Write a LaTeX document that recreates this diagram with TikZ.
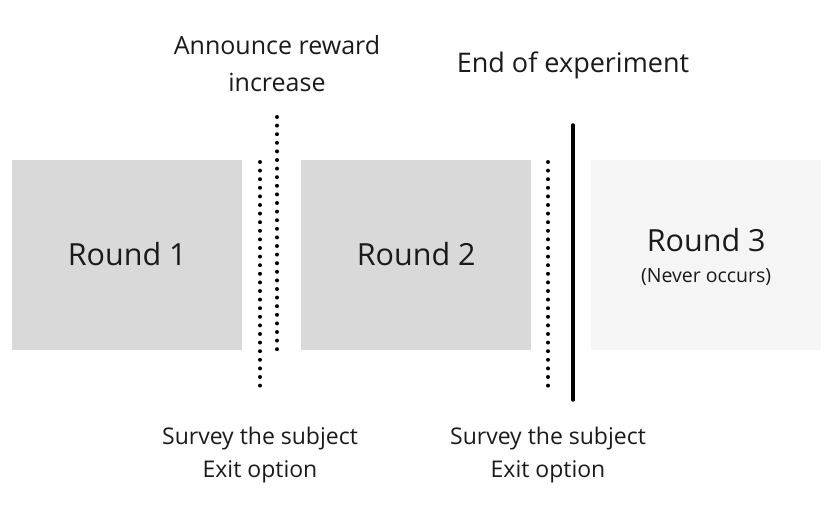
\documentclass[tikz,border=0pt]{standalone}
\usepackage{fontspec}
\setmainfont{Open Sans}
\definecolor{boxgray}{HTML}{D9D9D9}
\definecolor{boxlight}{HTML}{F5F5F5}
\definecolor{txt}{HTML}{1A1A1A}
\begin{document}
\begin{tikzpicture}[x=1pt,y=-1pt,
  roundbox/.style={minimum width=230pt,minimum height=190pt,inner sep=0pt,anchor=north west,text=txt},
  bigtext/.style={font=\fontsize{30.5}{36}\selectfont,text=txt,inner sep=0pt,anchor=base},
  dotline/.style={line width=4pt,line cap=round,dash pattern=on 0pt off 8.6pt,black},
  label/.style={text=txt,align=center,font=\fontsize{23}{33}\selectfont,inner sep=0pt,anchor=base}]
\useasboundingbox (0,0) rectangle (840,518);
\node[roundbox,fill=boxgray] (r1) at (12,160) {};
\node[roundbox,fill=boxgray] (r2) at (301,160) {};
\node[roundbox,fill=boxlight] (r3) at (591,160) {};
\node[bigtext] (r1t) at (r1.center |- 0,266) {Round 1};
\node[bigtext] (r2t) at (r2.center |- 0,266) {Round 2};
\node[bigtext] (r3t) at (r3.center |- 0,252) {Round 3};
\node[label,font=\fontsize{19.5}{24}\selectfont] (r3n) at (r3.center |- 0,283) {(Never occurs)};
\coordinate (d1a) at (260,162); \coordinate (d1b) at (260,394);
\coordinate (d2a) at (277,117); \coordinate (d2b) at (277,350);
\coordinate (d3a) at (548,162); \coordinate (d3b) at (548,394);
\coordinate (sa) at (573,125); \coordinate (sb) at (573,400);
\draw[dotline] (d1a) -- (d1b);
\draw[dotline] (d2a) -- (d2b);
\draw[dotline] (d3a) -- (d3b);
\draw[line width=3.5pt,line cap=round] (sa) -- (sb);
\node[label,font=\fontsize{25}{37}\selectfont] (ann) at (277,92) {Announce reward\\increase};
\node[label,font=\fontsize{27}{32}\selectfont] (end) at (573,73) {End of experiment};
\node[label] (s1) at (260,477) {Survey the subject\\Exit option};
\node[label] (s2) at (548,477) {Survey the subject\\Exit option};
\end{tikzpicture}
\end{document}
